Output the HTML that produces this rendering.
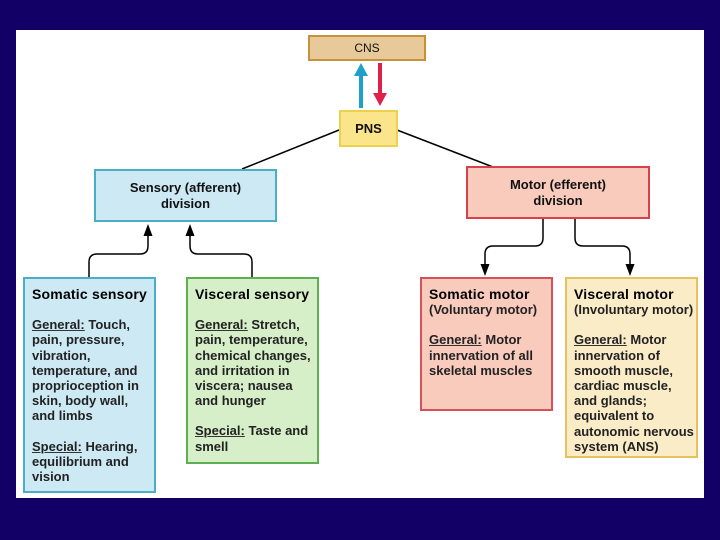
<!DOCTYPE html>
<html><head><style>
body{margin:0;width:720px;height:540px;background:#130066;position:relative;overflow:hidden;font-family:"Liberation Sans",sans-serif;}
#p{position:absolute;left:16px;top:30px;width:688px;height:468px;background:#fff;}
.b{position:absolute;box-sizing:border-box;font-weight:bold;color:#111;}
.c{display:flex;align-items:center;justify-content:center;text-align:center;font-size:13px;line-height:16px;}
.t{padding:8px 0 0 7px;font-size:13px;line-height:15.2px;color:#222;}
.t h{display:block;font-size:14px;color:#000;font-weight:900;letter-spacing:0.2px;margin-bottom:15px;}
.t p{margin:0 0 15px 0;}
u{text-decoration-color:#333;}
</style></head><body>
<div id="p"></div>
<svg width="720" height="540" style="position:absolute;left:0;top:0">
<defs><marker id="a" markerWidth="8" markerHeight="8" refX="4" refY="4" orient="auto"><path d="M0,1 L8,4 L0,7z" fill="#000"/></marker></defs>
<line x1="339" y1="130" x2="242" y2="169" stroke="#000" stroke-width="1.5"/>
<line x1="397" y1="130" x2="493" y2="167" stroke="#000" stroke-width="1.5"/>
<line x1="361" y1="108" x2="361" y2="74" stroke="#1fa0c8" stroke-width="4"/>
<path d="M354,76 L361,63 L368,76z" fill="#1fa0c8"/>
<line x1="380" y1="63" x2="380" y2="95" stroke="#e0204a" stroke-width="4"/>
<path d="M373,93 L380,106 L387,93z" fill="#e0204a"/>
<path d="M89,277 V262 Q89,254 97,254 H140 Q148,254 148,246 V230" fill="none" stroke="#000" stroke-width="1.5" marker-end="url(#a)"/>
<path d="M252,277 V262 Q252,254 244,254 H198 Q190,254 190,246 V230" fill="none" stroke="#000" stroke-width="1.5" marker-end="url(#a)"/>
<path d="M543,218 V238 Q543,246 535,246 H493 Q485,246 485,254 V270" fill="none" stroke="#000" stroke-width="1.5" marker-end="url(#a)"/>
<path d="M575,218 V238 Q575,246 583,246 H622 Q630,246 630,254 V270" fill="none" stroke="#000" stroke-width="1.5" marker-end="url(#a)"/>
</svg>
<div class="b c" style="left:308px;top:35px;width:118px;height:26px;background:#e8c99a;border:2px solid #c8903a;font-weight:normal;font-size:12px">CNS</div>
<div class="b c" style="left:339px;top:110px;width:59px;height:37px;background:#fbe58a;border:2px solid #ecd050;">PNS</div>
<div class="b c" style="left:94px;top:169px;width:183px;height:53px;background:#cce9f4;border:2px solid #4aaec8;">Sensory (afferent)<br>division</div>
<div class="b c" style="left:466px;top:166px;width:184px;height:53px;background:#f9cbbd;border:2px solid #d8404a;">Motor (efferent)<br>division</div>
<div class="b t" style="left:23px;top:277px;width:133px;height:216px;background:#cce9f4;border:2px solid #4aaec8;"><h>Somatic sensory</h><p><u>General:</u> Touch, pain, pressure, vibration, temperature, and proprioception in skin, body wall, and limbs</p><p><u>Special:</u> Hearing, equilibrium and vision</p></div>
<div class="b t" style="left:186px;top:277px;width:133px;height:187px;background:#d6efc8;border:2px solid #5cb050;"><h>Visceral sensory</h><p><u>General:</u> Stretch, pain, temperature, chemical changes, and irritation in viscera; nausea and hunger</p><p><u>Special:</u> Taste and smell</p></div>
<div class="b t" style="left:420px;top:277px;width:133px;height:134px;background:#f9cbbd;border:2px solid #d8505a;"><h style="margin-bottom:0">Somatic motor</h><p>(Voluntary motor)</p><p><u>General:</u> Motor innervation of all skeletal muscles</p></div>
<div class="b t" style="left:565px;top:277px;width:133px;height:181px;background:#fbecc8;border:2px solid #e8c060;"><h style="margin-bottom:0">Visceral motor</h><p>(Involuntary motor)</p><p><u>General:</u> Motor innervation of smooth muscle, cardiac muscle, and glands; equivalent to autonomic nervous system (ANS)</p></div>
</body></html>
